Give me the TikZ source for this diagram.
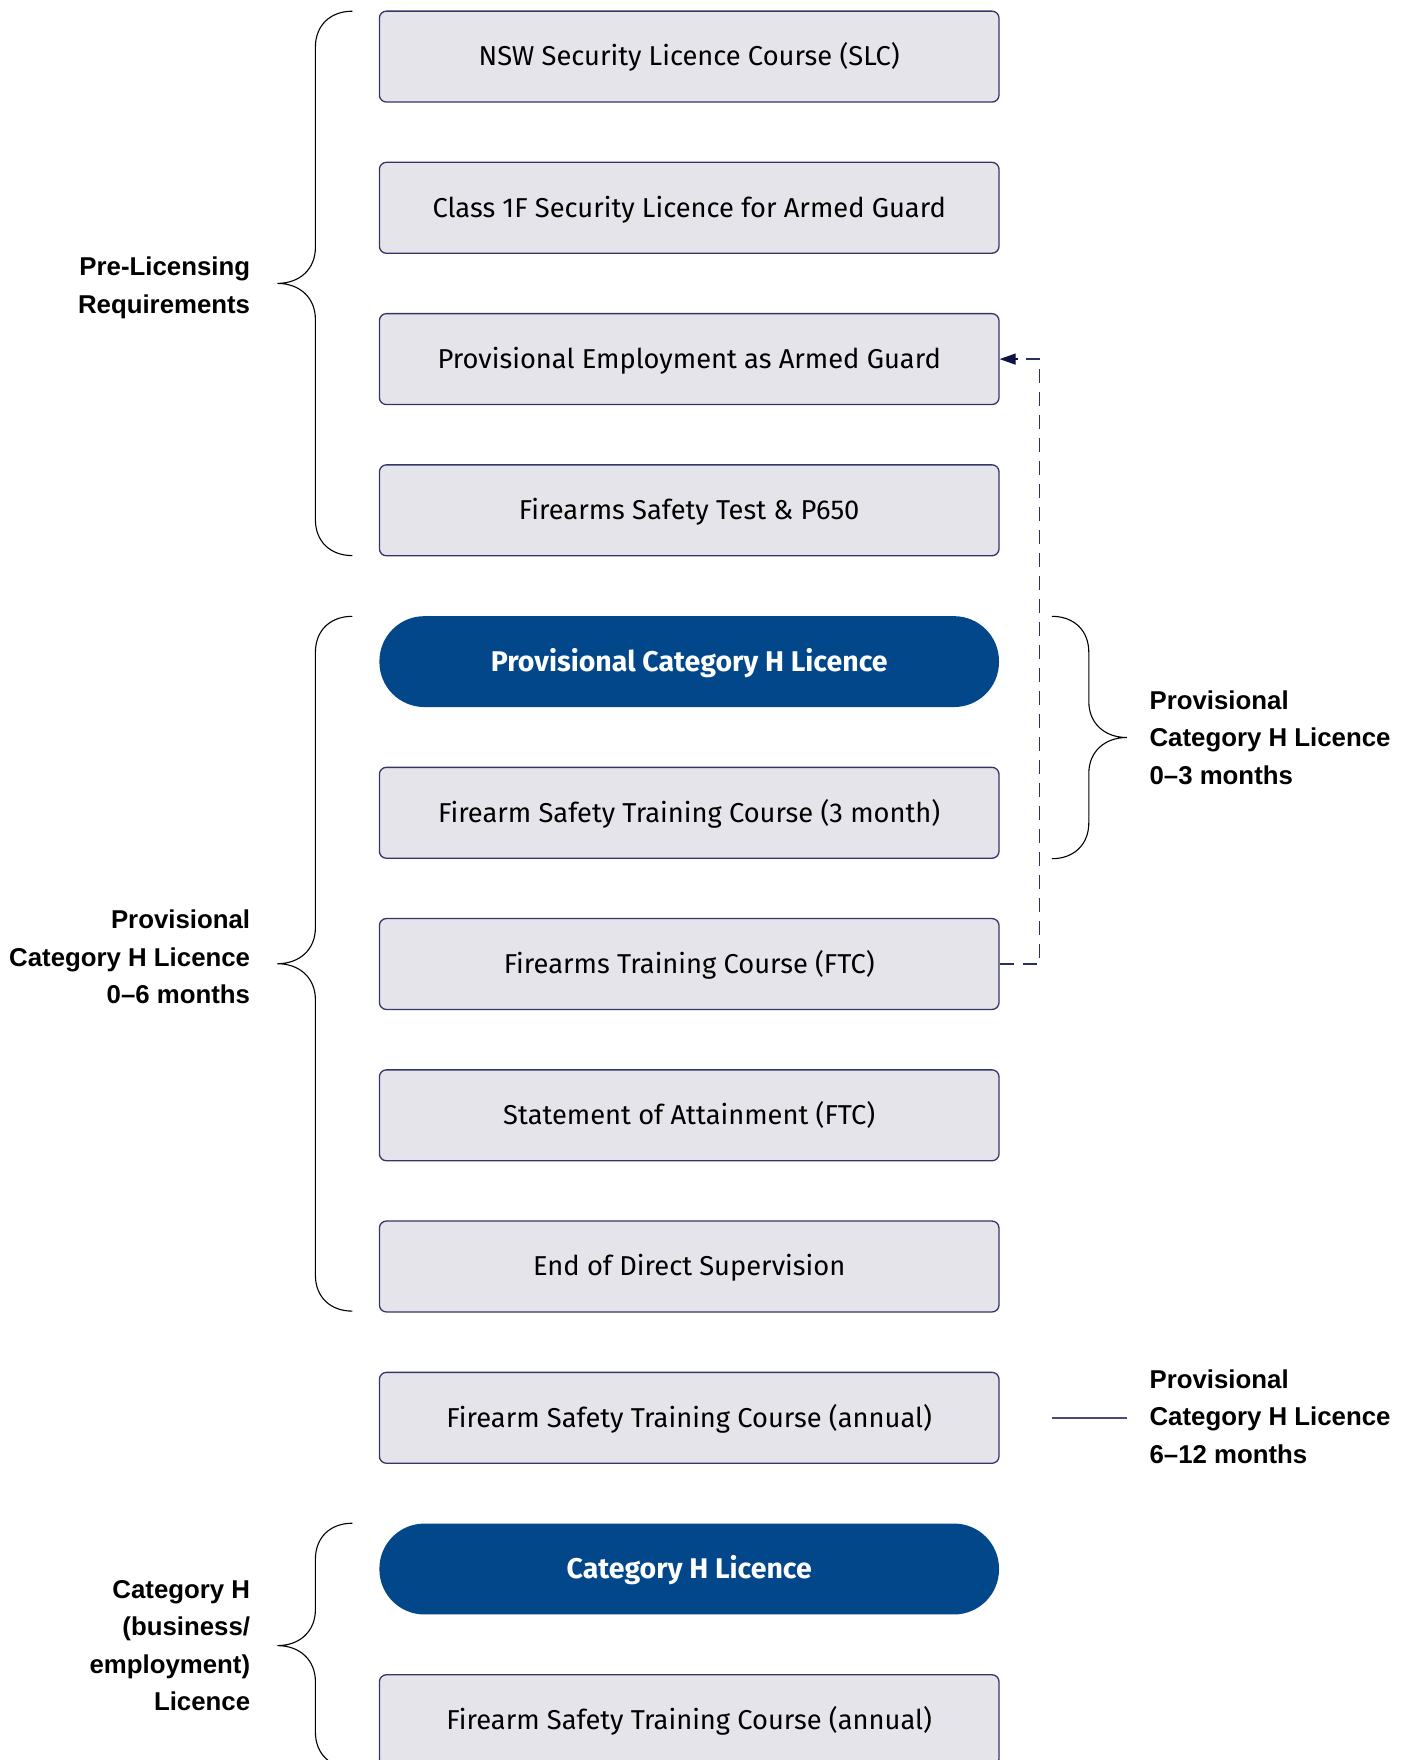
\documentclass[tikz,border=0pt]{standalone}
\usepackage{fontspec}
\setmainfont{Fira Sans}
\newfontfamily\labfont{Liberation Sans}
\usetikzlibrary{arrows.meta}
\definecolor{boxfill}{HTML}{E5E4EA}
\definecolor{boxline}{HTML}{34366A}
\definecolor{pillblue}{HTML}{02478A}
\definecolor{dashnavy}{HTML}{2A2F62}
\definecolor{arrownavy}{HTML}{0E1245}
\definecolor{solidline}{HTML}{464B7C}
\tikzset{
  stepbox/.style={draw=boxline, line width=1.3pt, fill=boxfill, rounded corners=7pt,
    minimum width=619.6pt, minimum height=90.9pt, inner sep=0pt,
    font=\fontsize{27.3}{32}\selectfont, text=black, text height=18.8pt, text depth=0pt},
  pillbox/.style={fill=pillblue, draw=none, rounded corners=45pt,
    minimum width=619.6pt, minimum height=90.9pt, inner sep=0pt,
    font=\fontsize{28.5}{32}\selectfont\bfseries, text=white, text height=19.7pt, text depth=0pt},
  lablab/.style={font=\labfont\bfseries\fontsize{25.8}{37.5}\selectfont, text=black, inner sep=0pt},
  bracepath/.style={draw=black, line width=1.1pt},
}
\newcommand\mybraceL[3]{% x-vertical, ytop, ybot
  \pgfmathsetmacro\ymid{(#2+#3)/2}
  \draw[bracepath] (#1+37,#2) .. controls (#1+15,#2) and (#1,#2+14) .. (#1,#2+36)
    -- (#1,\ymid-36) .. controls (#1,\ymid-14) and (#1-16,\ymid) .. (#1-38,\ymid)
    .. controls (#1-16,\ymid) and (#1,\ymid+14) .. (#1,\ymid+36)
    -- (#1,#3-36) .. controls (#1,#3-14) and (#1+15,#3) .. (#1+37,#3);}
\newcommand\mybraceR[3]{% x-vertical, ytop, ybot
  \pgfmathsetmacro\ymid{(#2+#3)/2}
  \draw[bracepath] (#1-37,#2) .. controls (#1-15,#2) and (#1,#2+14) .. (#1,#2+36)
    -- (#1,\ymid-36) .. controls (#1,\ymid-14) and (#1+16,\ymid) .. (#1+38,\ymid)
    .. controls (#1+16,\ymid) and (#1,\ymid+14) .. (#1,\ymid+36)
    -- (#1,#3-36) .. controls (#1,#3-14) and (#1-15,#3) .. (#1-37,#3);}
\begin{document}
\begin{tikzpicture}[x=1pt,y=-1pt]
\useasboundingbox (0,0) rectangle (1411,1760);
\clip (0,0) rectangle (1411,1760);
\fill[white] (0,0) rectangle (1411,1760);
% boxes
\node[stepbox] (b1) at (689.2,56.6) {NSW Security Licence Course (SLC)};
\node[stepbox] (b2) at (689.2,207.8) {Class 1F Security Licence for Armed Guard};
\node[stepbox] (b3) at (689.2,359.1) {Provisional Employment as Armed Guard};
\node[stepbox] (b4) at (689.2,510.3) {Firearms Safety Test \& P650};
\node[pillbox] (b5) at (689.2,661.6) {Provisional Category H Licence};
\node[stepbox] (b6) at (689.2,812.8) {Firearm Safety Training Course (3 month)};
\node[stepbox] (b7) at (689.2,964.0) {Firearms Training Course (FTC)};
\node[stepbox] (b8) at (689.2,1115.3) {Statement of Attainment (FTC)};
\node[stepbox] (b9) at (689.2,1266.5) {End of Direct Supervision};
\node[stepbox] (b10) at (689.2,1417.8) {Firearm Safety Training Course (annual)};
\node[pillbox] (b11) at (689.2,1569.0) {Category H Licence};
\node[stepbox] (b12) at (689.2,1720.2) {Firearm Safety Training Course (annual)};
% dashed feedback connector
\coordinate (dr) at (1039.4,0);
\draw[dashnavy, line width=1.3pt, dash pattern=on 14pt off 9pt]
  (b7.east) -- (b7.east -| dr) -- (b3.east -| dr) -- ([xshift=18pt]b3.east);
\draw[arrownavy, line width=1.3pt, -{Triangle[length=16pt,width=11pt]}]
  ([xshift=18pt]b3.east) -- (b3.east);
% braces
\mybraceL{315.4}{11.2}{555.6}
\mybraceL{315.4}{616.3}{1311.1}
\mybraceL{315.4}{1523.2}{1768}
\mybraceR{1088.8}{616.3}{858.7}
% solid line
\coordinate (sl1) at (1051.8,1417.8);
\coordinate (sl2) at (1127,1417.8);
\draw[solidline, line width=1.6pt] (sl1) -- (sl2);
% labels
\node[lablab, anchor=east, align=right] (l1) at (250.3,288.0) {Pre-Licensing\\Requirements};
\node[lablab, anchor=east, align=right] (l2) at (250.3,957.0) {Provisional\\Category H Licence\\0–6 months};
\node[lablab, anchor=east, align=right] (l3) at (250.3,1645.6) {Category H\\(business/\\employment)\\Licence};
\node[lablab, anchor=west, align=left] (r1) at (1149.4,737.5) {Provisional\\Category H Licence\\0–3 months};
\node[lablab, anchor=west, align=left] (r2) at (1149.4,1416.6) {Provisional\\Category H Licence\\6–12 months};
\end{tikzpicture}
\end{document}
